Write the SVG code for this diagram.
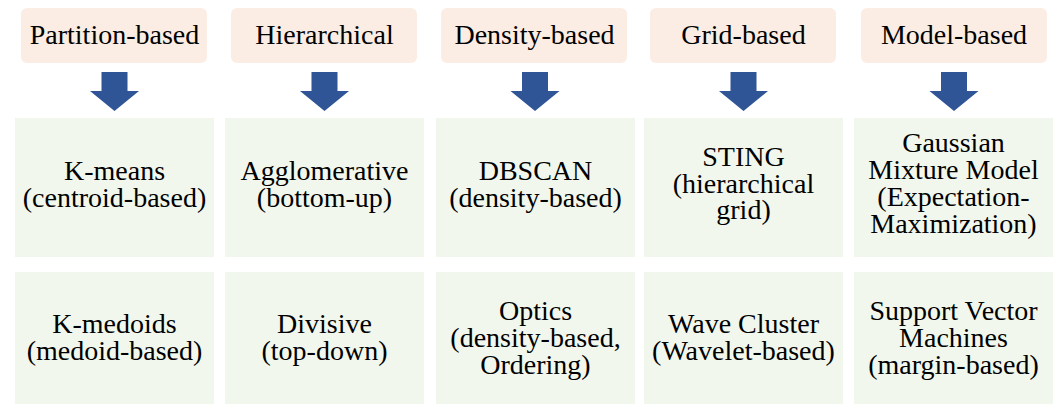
<svg xmlns="http://www.w3.org/2000/svg" width="1057" height="404" viewBox="0 0 1057 404">
<style>
.hdr{fill:#FBEDE4}
.cell{fill:#F2F7EE}
.arr{fill:#2F5597}
text{font-size:28px;fill:#000;text-anchor:middle}
</style>
<defs>
<path id="arrow" class="arr" d="M-13,72 H13 V91 H24.5 L0,111 L-24.5,91 H-13 Z"/>
</defs>
<rect width="1057" height="404" fill="#fff"/>
<g id="headers" font-family="Liberation Serif, Tinos, Times New Roman, Times, Nimbus Roman, Nimbus Roman No9 L, FreeSerif, Noto Serif, DejaVu Serif, serif">
<g id="h1"><rect class="hdr" x="21" y="8" width="186" height="55" rx="6"/><text x="114.5" y="44">Partition-based</text></g>
<g id="h2"><rect class="hdr" x="231" y="8" width="186" height="55" rx="6"/><text x="324.5" y="44">Hierarchical</text></g>
<g id="h3"><rect class="hdr" x="441" y="8" width="186" height="55" rx="6"/><text x="534.5" y="44">Density-based</text></g>
<g id="h4"><rect class="hdr" x="650" y="8" width="186" height="55" rx="6"/><text x="743.5" y="44">Grid-based</text></g>
<g id="h5"><rect class="hdr" x="861" y="8" width="186" height="55" rx="6"/><text x="954" y="44">Model-based</text></g>
</g>
<g id="connectors">
<use href="#arrow" x="114.5"/>
<use href="#arrow" x="324.5"/>
<use href="#arrow" x="535"/>
<use href="#arrow" x="743.5"/>
<use href="#arrow" x="954"/>
</g>
<g id="cells" font-family="Liberation Serif, Tinos, Times New Roman, Times, Nimbus Roman, Nimbus Roman No9 L, FreeSerif, Noto Serif, DejaVu Serif, serif">
<g id="c1r1"><rect class="cell" x="15" y="118" width="199" height="139"/><text x="114.5" y="180">K-means</text><text x="114.5" y="207">(centroid-based)</text></g>
<g id="c2r1"><rect class="cell" x="225" y="118" width="199" height="139"/><text x="324.5" y="180">Agglomerative</text><text x="324.5" y="207">(bottom-up)</text></g>
<g id="c3r1"><rect class="cell" x="436" y="118" width="199" height="139"/><text x="535.5" y="180">DBSCAN</text><text x="535.5" y="207">(density-based)</text></g>
<g id="c4r1"><rect class="cell" x="644" y="118" width="199" height="139"/><text x="743.5" y="166">STING</text><text x="743.5" y="193">(hierarchical</text><text x="743.5" y="219">grid)</text></g>
<g id="c5r1"><rect class="cell" x="854" y="118" width="199" height="139"/><text x="953.5" y="152">Gaussian</text><text x="953.5" y="179">Mixture Model</text><text x="953.5" y="206">(Expectation-</text><text x="953.5" y="233">Maximization)</text></g>
<g id="c1r2"><rect class="cell" x="15" y="272" width="199" height="139"/><text x="114.5" y="333">K-medoids</text><text x="114.5" y="360">(medoid-based)</text></g>
<g id="c2r2"><rect class="cell" x="225" y="272" width="199" height="139"/><text x="324.5" y="333">Divisive</text><text x="324.5" y="360">(top-down)</text></g>
<g id="c3r2"><rect class="cell" x="436" y="272" width="199" height="139"/><text x="535.5" y="320">Optics</text><text x="535.5" y="347">(density-based,</text><text x="535.5" y="374">Ordering)</text></g>
<g id="c4r2"><rect class="cell" x="644" y="272" width="199" height="139"/><text x="743.5" y="333">Wave Cluster</text><text x="743.5" y="360">(Wavelet-based)</text></g>
<g id="c5r2"><rect class="cell" x="854" y="272" width="199" height="139"/><text x="953.5" y="320">Support Vector</text><text x="953.5" y="347">Machines</text><text x="953.5" y="374">(margin-based)</text></g>
</g>
</svg>
